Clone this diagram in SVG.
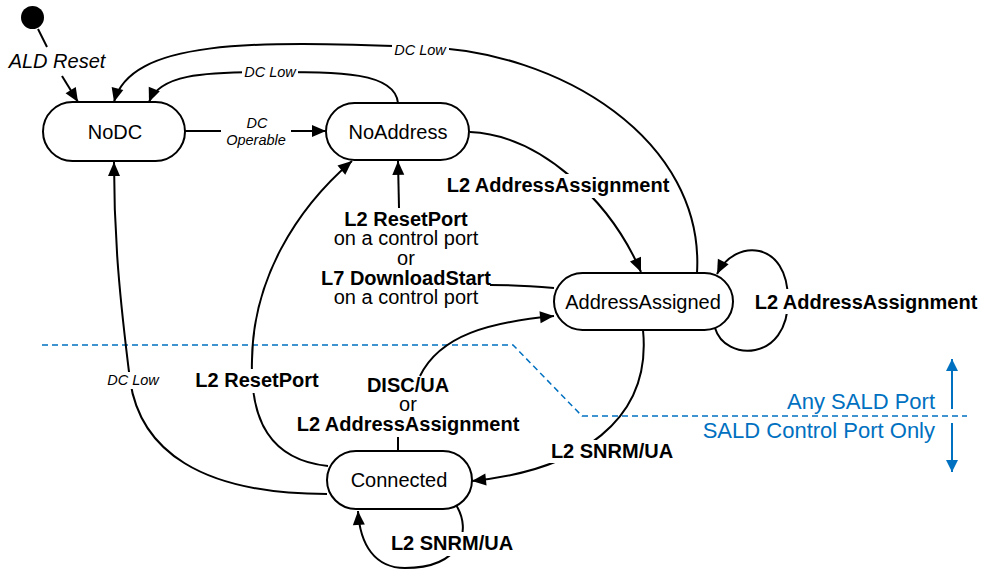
<svg xmlns="http://www.w3.org/2000/svg" width="982" height="569" viewBox="0 0 982 569">
<style>
.node rect{fill:#fff;stroke:#000;stroke-width:2}
.nt{font-family:"Liberation Sans",Arial,sans-serif;font-size:20px;text-anchor:middle;fill:#000}
.e{fill:none;stroke:#000;stroke-width:2}
.ea{fill:none;stroke:#000;stroke-width:2;marker-end:url(#ah)}
.bl{font-family:"Liberation Sans",Arial,sans-serif;font-size:20px;font-weight:bold;text-anchor:middle;fill:#000}
.rl{font-family:"Liberation Sans",Arial,sans-serif;font-size:20px;text-anchor:middle;fill:#000}
.il{font-family:"Liberation Sans",Arial,sans-serif;font-size:14.5px;font-style:italic;text-anchor:middle;fill:#000}
.bg{fill:#fff}
.blue{fill:#0070C0;font-family:"Liberation Sans",Arial,sans-serif;font-size:22px;text-anchor:end}
.dash{fill:none;stroke:#0070C0;stroke-width:1.5;stroke-dasharray:6 4}
.barr{fill:none;stroke:#0070C0;stroke-width:2;marker-end:url(#bh)}
</style>
<defs>
<marker id="ah" markerUnits="userSpaceOnUse" markerWidth="16" markerHeight="14" refX="14" refY="6" orient="auto" overflow="visible">
<path d="M0,0 L14,6 L0,12 z" fill="#000"/>
</marker>
<marker id="bh" markerUnits="userSpaceOnUse" markerWidth="14" markerHeight="12" refX="12" refY="6" orient="auto" overflow="visible">
<path d="M0,0 L12,6 L0,12 z" fill="#0070C0"/>
</marker>
</defs>

<g id="legend">
<path class="dash" d="M42,345 L513,345 L582,416 L967,416"/>
<text class="blue" x="935" y="409">Any SALD Port</text>
<text class="blue" x="935" y="438">SALD Control Port Only</text>
<path class="barr" d="M952,409 L952,359"/>
<path class="barr" d="M952,423 L952,472"/>
</g>

<g id="connectors">
<g id="e-init">
<path class="e" d="M38,29 L47,47"/>
<text class="il" x="57" y="68" style="font-size:20px">ALD Reset</text>
<path class="ea" d="M62,76 L78,102"/>
</g>
<g id="e-nodc-noaddr">
<path class="ea" d="M185,131 L326,131"/>
<rect class="bg" x="221" y="114" width="70" height="35"/>
<text class="il" x="257" y="128">DC</text>
<text class="il" x="256" y="145">Operable</text>
</g>
<g id="e-noaddr-nodc">
<path class="ea" d="M398,103 C395,72 340,72 270,72 C200,72 160,75 149,102"/>
<rect class="bg" x="242" y="64" width="56" height="16"/>
<text class="il" x="270" y="77">DC Low</text>
</g>
<g id="e-addr-nodc">
<path class="ea" d="M697,273 C705,140 560,50 420,47 C250,40 130,40 114,102"/>
<rect class="bg" x="392" y="41" width="57" height="16"/>
<text class="il" x="420" y="55">DC Low</text>
</g>
<g id="e-noaddr-addr">
<path class="ea" d="M470,132 C540,135 610,200 641,272"/>
<rect class="bg" x="445" y="174" width="226" height="24"/>
<text class="bl" x="558" y="192">L2 AddressAssignment</text>
</g>
<g id="e-addr-noaddr">
<path class="e" d="M554,288 C530,286 510,285 490,285"/>
<path class="ea" d="M399,208 L398,161"/>
<text class="bl" x="406" y="226">L2 ResetPort</text>
<text class="rl" x="406" y="245">on a control port</text>
<text class="rl" x="406" y="265">or</text>
<text class="bl" x="406" y="285">L7 DownloadStart</text>
<text class="rl" x="406" y="304">on a control port</text>
</g>
<g id="e-addr-self">
<path class="ea" d="M715,328 C725,362 788,362 788,300 C788,240 735,238 717,274"/>
<rect class="bg" x="752" y="289" width="228" height="25"/>
<text class="bl" x="866" y="309">L2 AddressAssignment</text>
</g>
<g id="e-addr-conn">
<path class="ea" d="M643,330 C652,420 580,470 472,481"/>
<rect class="bg" x="549" y="440" width="127" height="23"/>
<text class="bl" x="612" y="458">L2 SNRM/UA</text>
</g>
<g id="e-conn-addr">
<path class="e" d="M398,451 L398,437"/>
<path class="ea" d="M420,376 C440,335 490,322 554,316"/>
<text class="bl" x="408" y="392">DISC/UA</text>
<text class="rl" x="408" y="411">or</text>
<text class="bl" x="408" y="431">L2 AddressAssignment</text>
</g>
<g id="e-conn-noaddr">
<path class="ea" d="M328,466 C270,460 250,420 252,360 C253,280 295,210 352,161"/>
<rect class="bg" x="193" y="369" width="128" height="24"/>
<text class="bl" x="257" y="387">L2 ResetPort</text>
</g>
<g id="e-conn-nodc">
<path class="ea" d="M327,494 C200,494 140,450 130,380 C120,300 114,240 114,162"/>
<rect class="bg" x="104" y="372" width="58" height="17"/>
<text class="il" x="133" y="385">DC Low</text>
</g>
<g id="e-conn-self">
<path class="ea" d="M456,505 C472,530 462,568 405,568 C375,568 360,545 358,511"/>
<rect class="bg" x="388" y="532" width="128" height="24"/>
<text class="bl" x="452" y="550">L2 SNRM/UA</text>
</g>
</g>

<g id="initial">
<circle cx="32.5" cy="17.5" r="11.5" fill="#000"/>
</g>
<g id="NoDC" class="node">
<rect x="43" y="102" width="142" height="59" rx="29.5"/>
<text class="nt" x="115" y="139">NoDC</text>
</g>
<g id="NoAddress" class="node">
<rect x="326" y="103" width="143" height="57" rx="28.5"/>
<text class="nt" x="398" y="139">NoAddress</text>
</g>
<g id="AddressAssigned" class="node">
<rect x="554" y="273" width="179" height="57" rx="28.5"/>
<text class="nt" x="643" y="309">AddressAssigned</text>
</g>
<g id="Connected" class="node">
<rect x="327" y="451" width="145" height="58" rx="29"/>
<text class="nt" x="399" y="487">Connected</text>
</g>
</svg>
